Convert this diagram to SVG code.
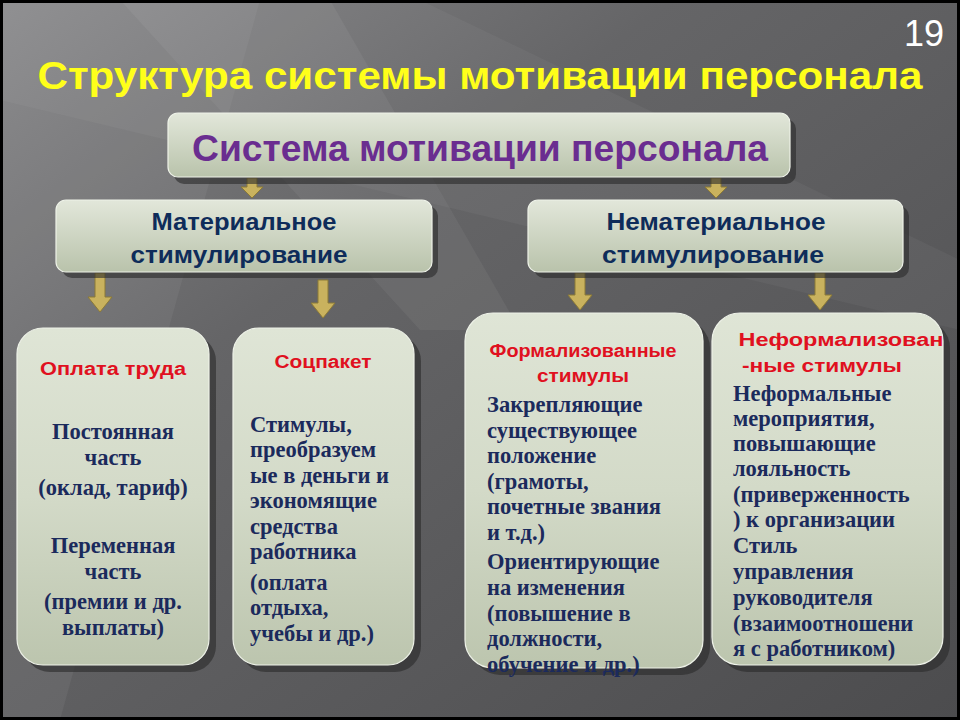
<svg xmlns="http://www.w3.org/2000/svg" width="960" height="720" viewBox="0 0 960 720">
<defs>
<linearGradient id="bg" x1="0" y1="0" x2="1" y2="1">
<stop offset="0" stop-color="#868688"/>
<stop offset="0.35" stop-color="#656567"/>
<stop offset="1" stop-color="#4c4c4e"/>
</linearGradient>
<linearGradient id="box" x1="0" y1="0" x2="0" y2="1">
<stop offset="0" stop-color="#e2e7da"/>
<stop offset="1" stop-color="#b9c3ab"/>
</linearGradient>
<linearGradient id="tall" x1="0" y1="0" x2="0" y2="1">
<stop offset="0" stop-color="#dfe5d6"/>
<stop offset="0.5" stop-color="#d3dac8"/>
<stop offset="1" stop-color="#bcc5ae"/>
</linearGradient>
<style>
.sh{fill:#2a2a2a;opacity:0.6}
.bx{fill:url(#box);stroke:#eef2e8;stroke-width:1.2}
.tb{fill:url(#tall);stroke:#eef2e8;stroke-width:1.2}
.arr{fill:#c9b25e;stroke:#8c7a36;stroke-width:1}
.hd{font-family:"Liberation Sans","DejaVu Sans",sans-serif;font-weight:bold}
.red{fill:#e01020;font-size:18px}
.body{font-family:"Liberation Serif","DejaVu Serif",serif;font-weight:bold;font-size:22.5px;fill:#1b2a5c}
.mid{text-anchor:middle}
.sub{fill:#0e2c5a;font-size:24px}
</style>
</defs>
<rect width="960" height="720" fill="url(#bg)"/>
<polygon points="0,0 260,0 60,720 0,720" fill="#ffffff" opacity="0.05"/>
<polygon points="120,0 330,0 520,330 420,330" fill="#ffffff" opacity="0.05"/>
<polygon points="0,0 420,0 960,260 960,330 0,100" fill="#ffffff" opacity="0.04"/>
<rect x="1.5" y="1.5" width="957" height="717" fill="none" stroke="#000" stroke-width="3"/>

<text x="944" y="46" font-family="Liberation Sans, DejaVu Sans, sans-serif" font-size="36" fill="#ffffff" text-anchor="end">19</text>
<text x="480" y="89" class="hd mid" font-size="39" fill="#ffff1a" textLength="885" lengthAdjust="spacingAndGlyphs">Структура системы мотивации персонала</text>

<g id="connectors">
<path class="arr" d="M247,178 H257 V187 H263 L252,198 L241,187 H247 Z"/>
<path class="arr" d="M711,178 H721 V187 H727 L716,198 L705,187 H711 Z"/>
<path class="arr" d="M95,273 H105 V297 H112 L100,312 L88,297 H95 Z"/>
<path class="arr" d="M318,280 H328 V303 H335 L323,318 L311,303 H318 Z"/>
<path class="arr" d="M575,273 H585 V295 H592 L580,310 L568,295 H575 Z"/>
<path class="arr" d="M815,273 H825 V295 H832 L820,310 L808,295 H815 Z"/>
</g>

<g id="root">
<rect class="sh" x="174" y="119" width="622" height="65" rx="10"/>
<rect class="bx" x="168" y="113" width="622" height="64" rx="10"/>
<text x="480" y="161" class="hd mid" font-size="36" fill="#6a2d90" textLength="576" lengthAdjust="spacingAndGlyphs">Система мотивации персонала</text>
</g>

<g id="material">
<rect class="sh" x="62" y="206" width="376" height="72" rx="10"/>
<rect class="bx" x="56" y="200" width="376" height="72" rx="10"/>
<text x="244" y="230" class="hd mid sub" textLength="185" lengthAdjust="spacingAndGlyphs">Материальное</text>
<text x="239" y="263" class="hd mid sub" textLength="217" lengthAdjust="spacingAndGlyphs">стимулирование</text>
</g>

<g id="nonmaterial">
<rect class="sh" x="534" y="206" width="375" height="72" rx="10"/>
<rect class="bx" x="528" y="200" width="375" height="72" rx="10"/>
<text x="716" y="230" class="hd mid sub" textLength="219" lengthAdjust="spacingAndGlyphs">Нематериальное</text>
<text x="713" y="263" class="hd mid sub" textLength="222" lengthAdjust="spacingAndGlyphs">стимулирование</text>
</g>

<g id="pay">
<rect class="sh" x="24" y="335" width="192" height="337" rx="26"/>
<rect class="tb" x="17" y="328" width="192" height="337" rx="26"/>
<text x="113" y="375" class="hd mid red" textLength="146" lengthAdjust="spacingAndGlyphs">Оплата труда</text>
<text x="113" y="439" class="body mid">Постоянная</text>
<text x="113" y="465" class="body mid">часть</text>
<text x="113" y="495" class="body mid">(оклад, тариф)</text>
<text x="113" y="553" class="body mid">Переменная</text>
<text x="113" y="579" class="body mid">часть</text>
<text x="113" y="609" class="body mid">(премии и др.</text>
<text x="113" y="635" class="body mid">выплаты)</text>
</g>

<g id="social">
<rect class="sh" x="240" y="335" width="181" height="337" rx="26"/>
<rect class="tb" x="233" y="328" width="181" height="337" rx="26"/>
<text x="323" y="368" class="hd mid red" textLength="97" lengthAdjust="spacingAndGlyphs">Соцпакет</text>
<text x="250" y="432" class="body">Стимулы,</text>
<text x="250" y="457" class="body">преобразуем</text>
<text x="250" y="483" class="body">ые в деньги и</text>
<text x="250" y="508" class="body">экономящие</text>
<text x="250" y="534" class="body">средства</text>
<text x="250" y="559" class="body">работника</text>
<text x="250" y="590" class="body">(оплата</text>
<text x="250" y="615" class="body">отдыха,</text>
<text x="250" y="641" class="body">учебы и др.)</text>
</g>

<g id="formal">
<rect class="sh" x="472" y="320" width="238" height="355" rx="28"/>
<rect class="tb" x="465" y="313" width="238" height="355" rx="28"/>
<text x="583" y="357" class="hd mid red" textLength="187" lengthAdjust="spacingAndGlyphs">Формализованные</text>
<text x="583" y="382" class="hd mid red" textLength="92" lengthAdjust="spacingAndGlyphs">стимулы</text>
<text x="487" y="412" class="body">Закрепляющие</text>
<text x="487" y="438" class="body">существующее</text>
<text x="487" y="463" class="body">положение</text>
<text x="487" y="489" class="body">(грамоты,</text>
<text x="487" y="514" class="body">почетные звания</text>
<text x="487" y="540" class="body">и т.д.)</text>
<text x="487" y="569" class="body">Ориентирующие</text>
<text x="487" y="595" class="body">на изменения</text>
<text x="487" y="621" class="body">(повышение в</text>
<text x="487" y="646" class="body">должности,</text>
<text x="487" y="672" class="body">обучение и др.)</text>
</g>

<g id="informal">
<rect class="sh" x="719" y="320" width="231" height="352" rx="28"/>
<rect class="tb" x="712" y="313" width="231" height="352" rx="28"/>
<text x="841" y="346" class="hd mid red" textLength="205" lengthAdjust="spacingAndGlyphs">Неформализован</text>
<text x="822" y="372" class="hd mid red" textLength="160" lengthAdjust="spacingAndGlyphs">-ные стимулы</text>
<text x="733" y="401" class="body">Неформальные</text>
<text x="733" y="426" class="body">мероприятия,</text>
<text x="733" y="451" class="body">повышающие</text>
<text x="733" y="476" class="body">лояльность</text>
<text x="733" y="502" class="body">(приверженность</text>
<text x="733" y="527" class="body">) к организации</text>
<text x="733" y="553" class="body">Стиль</text>
<text x="733" y="579" class="body">управления</text>
<text x="733" y="605" class="body">руководителя</text>
<text x="733" y="631" class="body">(взаимоотношени</text>
<text x="733" y="656" class="body">я с работником)</text>
</g>
</svg>
